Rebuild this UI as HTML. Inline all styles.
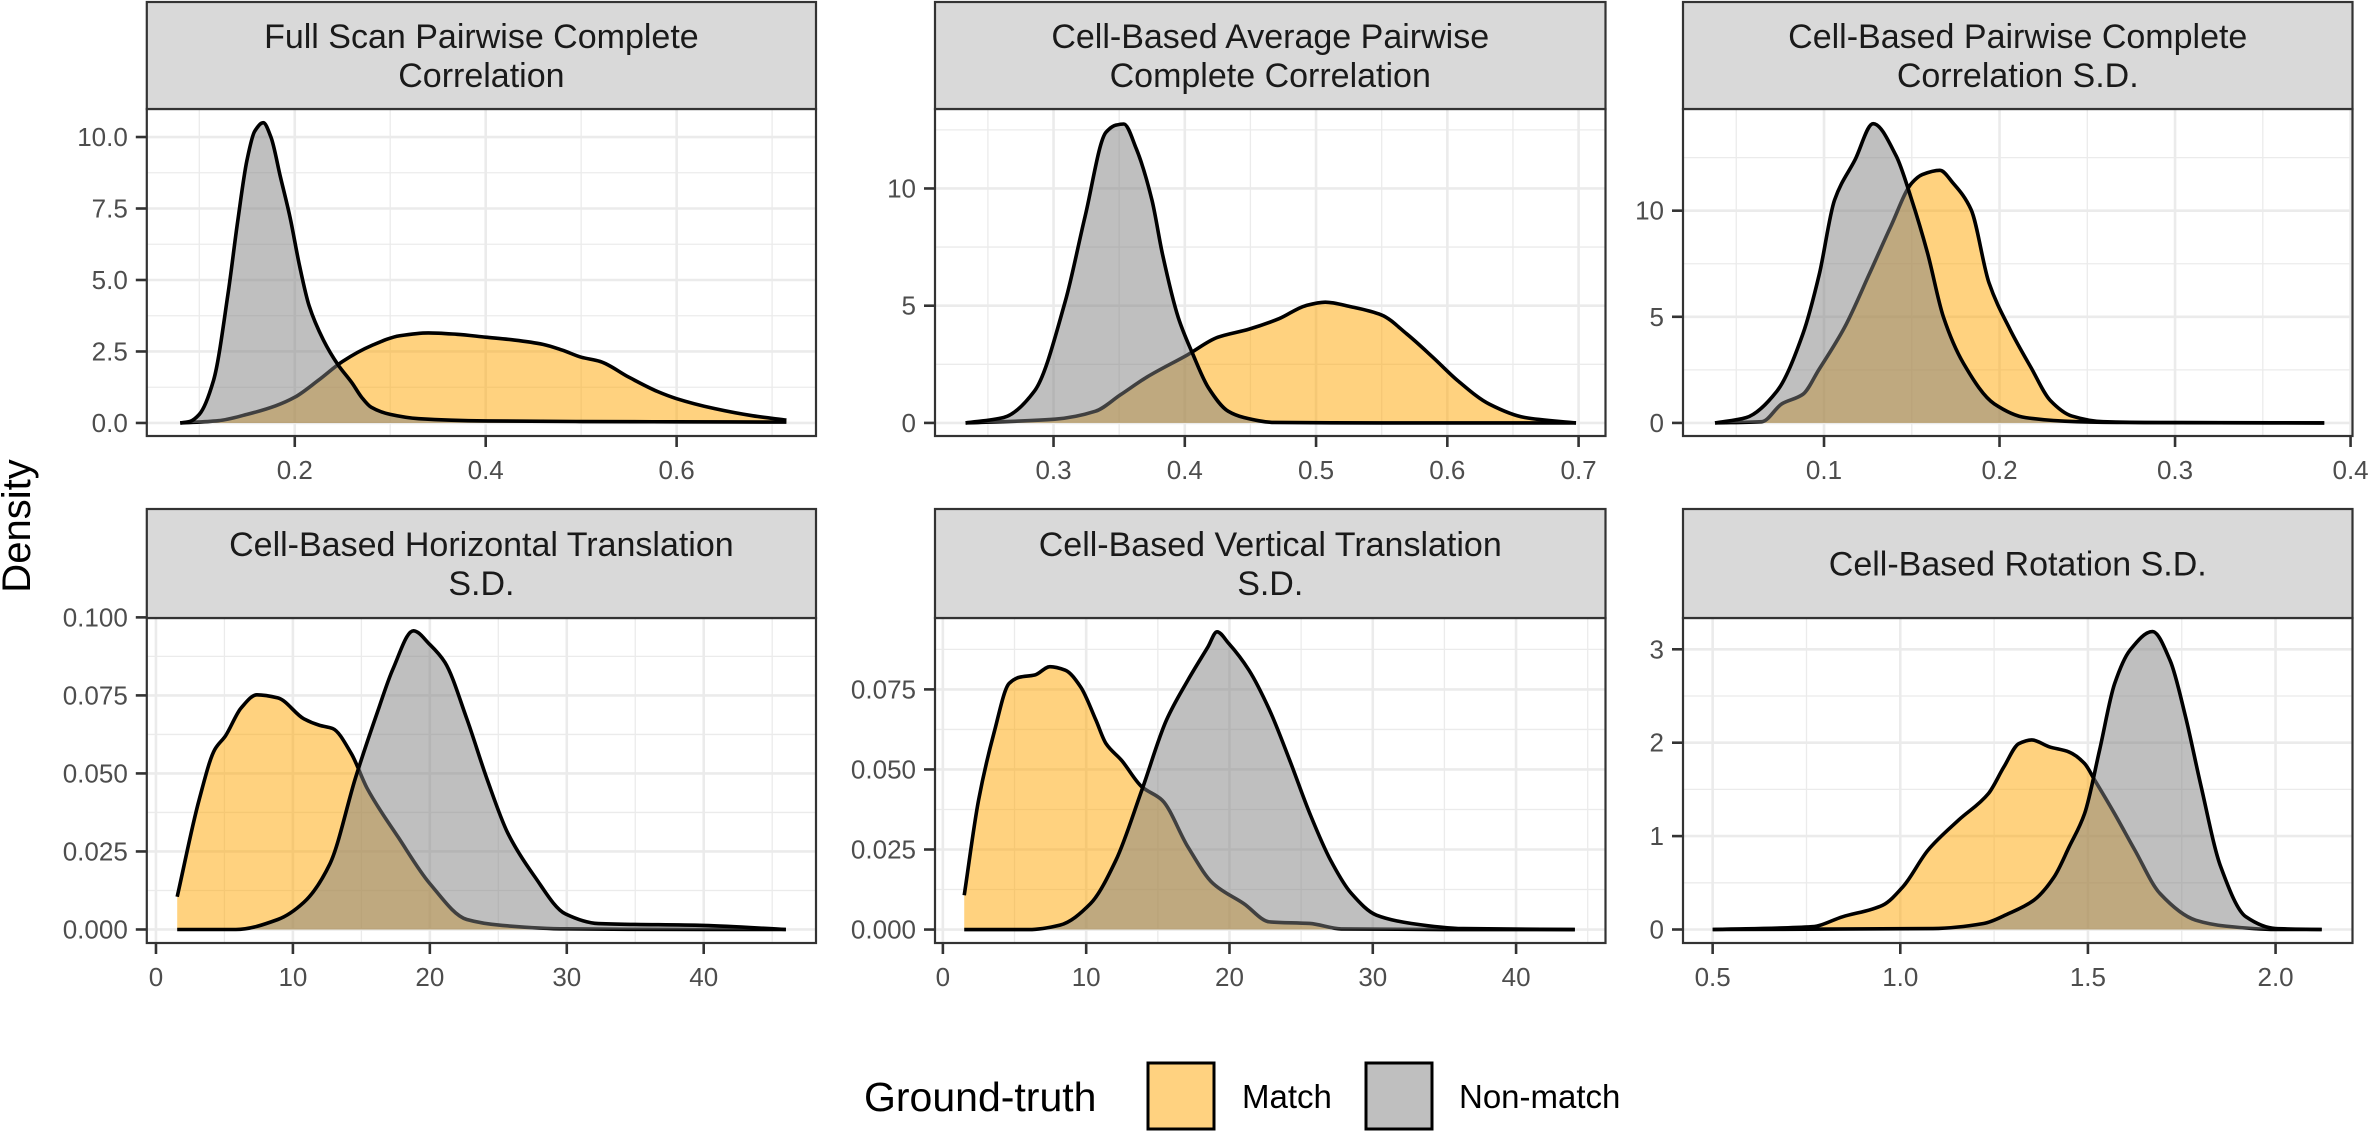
<!DOCTYPE html>
<html><head><meta charset="utf-8"><style>
html,body{margin:0;padding:0;background:#fff;}
svg{display:block;font-family:"Liberation Sans",Arial,sans-serif;}
</style></head><body>
<svg id="chart" width="2371" height="1132" viewBox="0 0 2371 1132" xmlns="http://www.w3.org/2000/svg">
<text x="0" y="0" transform="translate(30,526) rotate(-90)" text-anchor="middle" font-size="40" fill="#000">Density</text>
<g>
<text x="864" y="1111" font-size="41" fill="#000">Ground-truth</text>
<rect x="1148" y="1063" width="66" height="66" fill="#FFD280" stroke="#000" stroke-width="3"/>
<text x="1242" y="1108" font-size="33" fill="#000">Match</text>
<rect x="1366" y="1063" width="66" height="66" fill="#BFBFBF" stroke="#000" stroke-width="3"/>
<text x="1459" y="1108" font-size="33" fill="#000">Non-match</text>
</g>
</svg>
<script>
// ---- data ----
const panelTitles = [
 ["Full Scan Pairwise Complete","Correlation"],
 ["Cell-Based Average Pairwise","Complete Correlation"],
 ["Cell-Based Pairwise Complete","Correlation S.D."],
 ["Cell-Based Horizontal Translation","S.D."],
 ["Cell-Based Vertical Translation","S.D."],
 ["Cell-Based Rotation S.D."]
];
const xTicks = [[0.2,0.4,0.6],[0.3,0.4,0.5,0.6,0.7],[0.1,0.2,0.3,0.4],[0,10,20,30,40],[0,10,20,30,40],[0.5,1.0,1.5,2.0]];
const xTickLabels = [["0.2","0.4","0.6"],["0.3","0.4","0.5","0.6","0.7"],["0.1","0.2","0.3","0.4"],["0","10","20","30","40"],["0","10","20","30","40"],["0.5","1.0","1.5","2.0"]];
const yTicks = [[0,2.5,5,7.5,10],[0,5,10],[0,5,10],[0,0.025,0.05,0.075,0.1],[0,0.025,0.05,0.075],[0,1,2,3]];
const yTickLabels = [["0.0","2.5","5.0","7.5","10.0"],["0","5","10"],["0","5","10"],["0.000","0.025","0.050","0.075","0.100"],["0.000","0.025","0.050","0.075"],["0","1","2","3"]];
const xDomains = [[0.045,0.746],[0.2097,0.7205],[0.01966,0.4011],[-0.67,48.2],[-0.55,46.24],[0.421,2.205]];
const yDomains = [[-0.456,10.98],[-0.558,13.39],[-0.616,14.79],[-0.00433,0.0998],[-0.0042,0.0973],[-0.1445,3.335]];

const matchX = [
 [0.08,0.12,0.15,0.18,0.2,0.225,0.25,0.28,0.31,0.34,0.37,0.4,0.43,0.46,0.48,0.5,0.52,0.55,0.58,0.6,0.64,0.68,0.715],
 [0.233,0.301,0.332,0.351,0.371,0.402,0.425,0.449,0.472,0.492,0.507,0.527,0.55,0.569,0.589,0.608,0.632,0.659,0.698],
 [0.038,0.0646,0.076,0.088,0.097,0.1117,0.126,0.138,0.150,0.156,0.166,0.1735,0.1838,0.194,0.206,0.218,0.229,0.241,0.259,0.3,0.385],
 [1.55,3.16,4.3,5.07,6.22,7.37,8.9,10.8,11.96,12.9,14.26,15.4,17.7,20.0,22.7,25.3,30,40,46],
 [1.49,2.49,3.56,4.63,5.34,6.41,7.47,8.54,9.61,10.68,11.38,12.46,13.88,15.3,17.1,18.85,21.0,22.8,25.6,27.8,35,44.1],
 [0.5,0.765,0.846,0.953,1.007,1.074,1.155,1.235,1.276,1.316,1.35,1.397,1.45,1.491,1.518,1.571,1.625,1.692,1.787,1.867,2.0,2.123]
];
const matchY = [
 [0,0.08,0.3,0.6,0.9,1.5,2.15,2.7,3.05,3.15,3.1,3.0,2.9,2.75,2.55,2.3,2.15,1.6,1.1,0.85,0.5,0.25,0.1],
 [0,0.16,0.5,1.2,1.95,2.9,3.65,4.0,4.45,5.0,5.15,4.95,4.6,3.8,2.8,1.8,0.8,0.23,0],
 [0,0.06,0.9,1.35,2.5,4.5,7.05,9.25,11.3,11.7,11.9,11.3,10.05,6.6,4.4,2.6,1.05,0.33,0.06,0.01,0],
 [0.0105,0.0417,0.0577,0.062,0.071,0.0752,0.0742,0.0675,0.0654,0.0644,0.0564,0.0454,0.0295,0.0147,0.0032,0.0013,0.0002,0,0],
 [0.0107,0.0404,0.0613,0.0769,0.0788,0.0795,0.0821,0.081,0.0758,0.0654,0.0581,0.0529,0.0446,0.0404,0.0258,0.0144,0.0081,0.0024,0.0019,0.0002,0,0],
 [0,0.03,0.136,0.26,0.457,0.85,1.17,1.456,1.74,1.99,2.03,1.956,1.9,1.777,1.6,1.24,0.85,0.385,0.1,0.036,0,0]
];
const nonMatchX = [
 [0.08,0.09,0.1,0.115,0.13,0.14,0.15,0.158,0.167,0.175,0.185,0.195,0.205,0.215,0.23,0.245,0.26,0.27,0.28,0.3,0.33,0.4,0.5,0.6,0.715],
 [0.233,0.262,0.2856,0.309,0.324,0.340,0.3475,0.3535,0.363,0.375,0.383,0.395,0.406,0.418,0.433,0.445,0.468,0.55,0.698],
 [0.0379,0.0556,0.0732,0.088,0.0973,0.106,0.1177,0.128,0.141,0.150,0.159,0.168,0.1795,0.197,0.2149,0.244,0.274,0.385],
 [1.55,5.84,8.9,10.8,12.7,14.6,16.2,17.3,18.8,20.0,21.1,22.7,24.2,25.7,27.6,29.9,32.3,40,46],
 [1.49,6.0,8.17,10.3,12.08,13.88,15.6,17.1,18.5,19.13,19.94,21.36,22.8,24.2,25.6,27.05,28.5,30.26,32.7,36.3,44.1],
 [0.5,1.087,1.222,1.289,1.356,1.41,1.45,1.491,1.531,1.571,1.612,1.672,1.719,1.76,1.8,1.854,1.921,2.0,2.123]
];
const nonMatchY = [
 [0,0.05,0.3,1.5,4.5,7.0,9.2,10.2,10.5,10.0,8.6,7.2,5.5,4.1,2.9,2.05,1.4,0.9,0.55,0.3,0.15,0.07,0.05,0.04,0.03],
 [0,0.23,1.37,5.2,8.8,12.4,12.7,12.75,11.7,9.5,7.2,4.5,2.95,1.5,0.5,0.23,0.02,0,0],
 [0,0.25,1.5,4.2,7.0,10.5,12.4,14.1,12.6,10.5,8.0,5.0,2.8,0.9,0.25,0.06,0.02,0],
 [0,0,0.0032,0.0087,0.021,0.049,0.07,0.0834,0.0957,0.0913,0.0856,0.0675,0.0479,0.0308,0.0173,0.005,0.0019,0.0013,0],
 [0,0,0.0014,0.0081,0.0217,0.0435,0.0654,0.0779,0.0883,0.093,0.0894,0.081,0.0685,0.0529,0.0363,0.0217,0.0113,0.0045,0.0019,0.0003,0],
 [0,0.01,0.064,0.171,0.314,0.564,0.885,1.24,1.92,2.63,2.99,3.19,2.88,2.28,1.56,0.67,0.136,0.01,0]
];

// ---- layout ----
const colX = [[146.8,816],[935,1605.5],[1683,2352.5]];
const rowY = [{strip:[2,109],panel:[109,436]},{strip:[509,618],panel:[618,943]}];
const NS = "http://www.w3.org/2000/svg";
const svg = document.getElementById("chart");
function mk(tag, attrs, parent){
  const e = document.createElementNS(NS, tag);
  for (const k in attrs) e.setAttribute(k, attrs[k]);
  (parent||svg).appendChild(e); return e;
}
function monotonePath(pts){
  const n = pts.length; if(n<2) return "";
  const dx=[],m=[],t=new Array(n);
  for(let i=0;i<n-1;i++){dx[i]=pts[i+1][0]-pts[i][0]; m[i]=(pts[i+1][1]-pts[i][1])/dx[i];}
  t[0]=m[0]; t[n-1]=m[n-2];
  for(let i=1;i<n-1;i++){
    if(m[i-1]*m[i]<=0) t[i]=0;
    else { const w1=2*dx[i]+dx[i-1], w2=dx[i]+2*dx[i-1]; t[i]=(w1+w2)/(w1/m[i-1]+w2/m[i]); }
  }
  let d="M"+pts[0][0].toFixed(2)+","+pts[0][1].toFixed(2);
  for(let i=0;i<n-1;i++){
    const h=dx[i]/3;
    d+=" C"+(pts[i][0]+h).toFixed(2)+","+(pts[i][1]+h*t[i]).toFixed(2)+" "+(pts[i+1][0]-h).toFixed(2)+","+(pts[i+1][1]-h*t[i+1]).toFixed(2)+" "+pts[i+1][0].toFixed(2)+","+pts[i+1][1].toFixed(2);
  }
  return d;
}
function drawPanel(p){
  const c = colX[p%3], r = rowY[Math.floor(p/3)];
  const [L,R]=c, [T,B]=r.panel;
  const xd=xDomains[p], yd=yDomains[p];
  const sx = v => L + (v-xd[0])/(xd[1]-xd[0])*(R-L);
  const sy = v => B - (v-yd[0])/(yd[1]-yd[0])*(B-T);
  const g = mk("g",{});
  
  
  mk("rect",{x:L,y:T,width:R-L,height:B-T,fill:"#fff"},g);
  const xs=xTicks[p], ys=yTicks[p];
  const xstep = xs[1]-xs[0], ystep = ys[1]-ys[0];
  for(let v=xs[0]-xstep/2; v<=xd[1]; v+=xstep){ if(v<xd[0]) continue;
    const gl=mk("line",{x1:sx(v),x2:sx(v),y1:T,y2:B,stroke:"#ebebeb","stroke-width":1.3},g);
      }
  for(let v=ys[0]-ystep/2; v<=yd[1]; v+=ystep){ if(v<yd[0]) continue;
    const gl=mk("line",{x1:L,x2:R,y1:sy(v),y2:sy(v),stroke:"#ebebeb","stroke-width":1.3},g);
      }
  xs.forEach(v=>{ if(v<xd[0]||v>xd[1]) return;
    const gl=mk("line",{x1:sx(v),x2:sx(v),y1:T,y2:B,stroke:"#ebebeb","stroke-width":2.6},g);
      });
  ys.forEach(v=>{
    const gl=mk("line",{x1:L,x2:R,y1:sy(v),y2:sy(v),stroke:"#ebebeb","stroke-width":2.6},g);
      });
  const series=[[matchX[p],matchY[p],"rgba(255,165,0,0.5)","match"],[nonMatchX[p],nonMatchY[p],"rgba(127,127,127,0.5)","non-match"]];
  series.forEach(([X,Y,fill,nm])=>{
    const pts = X.map((x,i)=>[sx(x),sy(Y[i])]);
    const line = monotonePath(pts);
    const y0=sy(0);
    const area = mk("path",{d:line+" L"+pts[pts.length-1][0].toFixed(2)+","+y0.toFixed(2)+" L"+pts[0][0].toFixed(2)+","+y0.toFixed(2)+" Z",fill:fill,stroke:"none"},g);
    
    
    const ln = mk("path",{d:line,fill:"none",stroke:"#000","stroke-width":3.6,"stroke-linejoin":"round"},g);
    
    
  });
  const border=mk("rect",{x:L,y:T,width:R-L,height:B-T,fill:"none",stroke:"#333","stroke-width":2.2},g);
   
  xs.forEach((v,i)=>{
    const x=sx(v);
    const tk=mk("line",{x1:x,x2:x,y1:B,y2:B+11,stroke:"#333","stroke-width":2.6},g);
     
    const t=mk("text",{x:x,y:B+43,"text-anchor":"middle","font-size":26,fill:"#4d4d4d"},g);
    t.textContent=xTickLabels[p][i];
     
  });
  ys.forEach((v,i)=>{
    const y=sy(v);
    const tk=mk("line",{x1:L-11,x2:L,y1:y,y2:y,stroke:"#333","stroke-width":2.6},g);
     
    const t=mk("text",{x:L-19,y:y+9,"text-anchor":"end","font-size":26,fill:"#4d4d4d"},g);
    t.textContent=yTickLabels[p][i];
     
  });
  const [sT,sB]=r.strip;
  const st=mk("rect",{x:L,y:sT,width:R-L,height:sB-sT,fill:"#d9d9d9",stroke:"#333","stroke-width":2.2},g);
   
  const lines=panelTitles[p]; const cx=(L+R)/2, cy=(sT+sB)/2;
  lines.forEach((s,i)=>{
    const yy = cy + (i-(lines.length-1)/2)*39 + 12;
    const t=mk("text",{x:cx,y:yy,"text-anchor":"middle","font-size":34,fill:"#1a1a1a"},g);
    t.textContent=s;
     
  });
}
for(let p=0;p<6;p++) drawPanel(p);
</script>
</body></html>
